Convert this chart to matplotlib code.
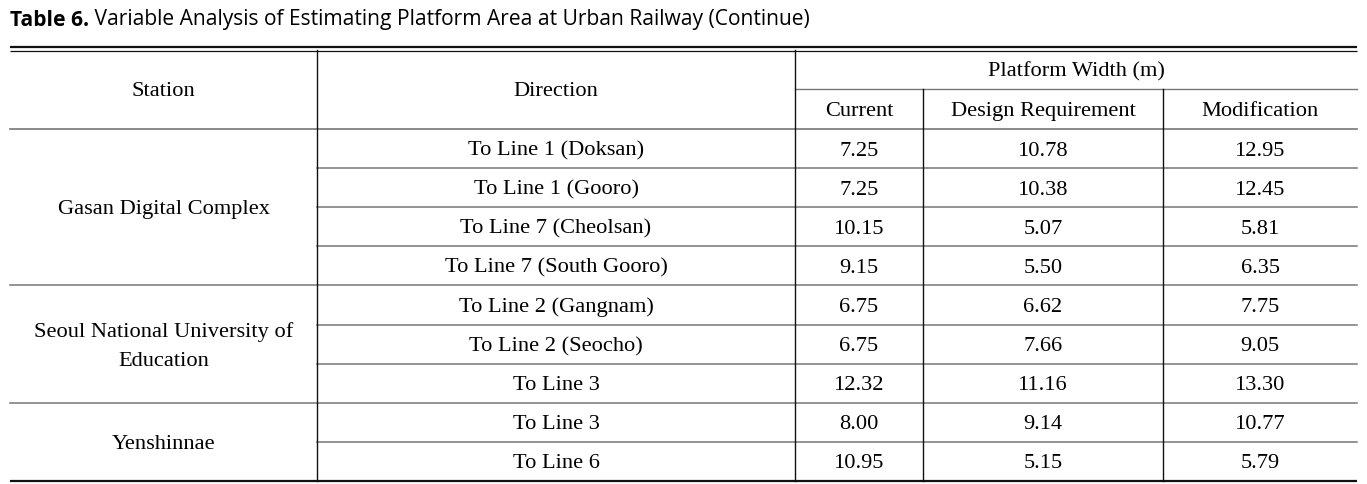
import matplotlib
matplotlib.use("Agg")
import matplotlib.pyplot as plt

# ---- data ----
stations = ["Gasan Digital Complex", "Seoul National University of\nEducation", "Yenshinnae"]
station_rows = [4, 3, 2]
directions = ["To Line 1 (Doksan)", "To Line 1 (Gooro)", "To Line 7 (Cheolsan)",
              "To Line 7 (South Gooro)", "To Line 2 (Gangnam)", "To Line 2 (Seocho)",
              "To Line 3", "To Line 3", "To Line 6"]
current = [7.25, 7.25, 10.15, 9.15, 6.75, 6.75, 12.32, 8.00, 10.95]
design = [10.78, 10.38, 5.07, 5.50, 6.62, 7.66, 11.16, 9.14, 5.15]
modification = [12.95, 12.45, 5.81, 6.35, 7.75, 9.05, 13.30, 10.77, 5.79]
col_headers = ["Station", "Direction", "Platform Width (m)"]
sub_headers = ["Current", "Design Requirement", "Modification"]
title_bold = "Table 6."
title_rest = " Variable Analysis of Estimating Platform Area at Urban Railway (Continue)"

W, H = 1367, 485
fig = plt.figure(figsize=(W / 100, H / 100), dpi=100)
ax = fig.add_axes([0, 0, 1, 1])
ax.set_xlim(0, W)
ax.set_ylim(H, 0)
ax.axis("off")

serif = "Liberation Serif"
fs = 16.1
x0, x1 = 10, 1357
xs = [x0, 317, 795, 923, 1163, x1]
y_top = 51
y_h1 = 90
y_h2 = 130
row_h = 39.1
n = len(directions)
y_rows = [y_h2 + i * row_h for i in range(n + 1)]

dark = "#111111"
gray = "#777777"

# title
tfs = 15.1
t = ax.text(10, 20, title_bold, fontsize=tfs, fontweight="bold", family="Open Sans",
            va="center", ha="left")
fig.canvas.draw()
bb = t.get_window_extent()
t2 = ax.text(10 + bb.width, 20, title_rest, fontsize=tfs, family="Open Sans",
             va="center", ha="left")

# top double line
ax.plot([x0, x1], [48, 48], color=dark, lw=1.6, solid_capstyle="butt")
ax.plot([x0, x1], [51.5, 51.5], color=dark, lw=0.9, solid_capstyle="butt")
# bottom line
ax.plot([x0, x1], [y_rows[-1], y_rows[-1]], color=dark, lw=1.6, solid_capstyle="butt")

# header lines
ax.plot([xs[2], x1], [y_h1, y_h1], color=gray, lw=1.0)
ax.plot([x0, x1], [y_h2, y_h2], color=gray, lw=1.2)

# row lines
boundaries = set()
acc = 0
for r in station_rows[:-1]:
    acc += r
    boundaries.add(acc)
for i in range(1, n):
    xstart = x0 if i in boundaries else xs[1]
    ax.plot([xstart, x1], [y_rows[i], y_rows[i]], color=gray, lw=1.1)

# vertical lines
for xv in xs[1:3]:
    ax.plot([xv, xv], [y_top, y_rows[-1]], color=dark, lw=1.0)
for xv in xs[3:5]:
    ax.plot([xv, xv], [y_h1, y_rows[-1]], color=dark, lw=1.0)

# headers
ax.text((xs[0] + xs[1]) / 2, (y_top + y_h2) / 2 + 1.5, col_headers[0], family=serif, fontsize=fs,
        ha="center", va="center")
ax.text((xs[1] + xs[2]) / 2, (y_top + y_h2) / 2 + 1.5, col_headers[1], family=serif, fontsize=fs,
        ha="center", va="center")
ax.text((xs[2] + xs[5]) / 2, (y_top + y_h1) / 2 + 1.5, col_headers[2], family=serif, fontsize=fs,
        ha="center", va="center")
for j, s in enumerate(sub_headers):
    ax.text((xs[2 + j] + xs[3 + j]) / 2, (y_h1 + y_h2) / 2 + 1.5, s, family=serif, fontsize=fs,
            ha="center", va="center")

# stations
start = 0
for s, r in zip(stations, station_rows):
    yc = (y_rows[start] + y_rows[start + r]) / 2 + 1.5
    ax.text((xs[0] + xs[1]) / 2, yc, s, family=serif, fontsize=fs, ha="center",
            va="center", linespacing=1.67)
    start += r

# data rows
for i in range(n):
    yc = (y_rows[i] + y_rows[i + 1]) / 2 + 1.5
    ax.text((xs[1] + xs[2]) / 2, yc, directions[i], family=serif, fontsize=fs,
            ha="center", va="center")
    for j, vals in enumerate([current, design, modification]):
        ax.text((xs[2 + j] + xs[3 + j]) / 2, yc, f"{vals[i]:.2f}", family=serif,
                fontsize=fs, ha="center", va="center")

fig.savefig("out.png", dpi=100, facecolor="white")
